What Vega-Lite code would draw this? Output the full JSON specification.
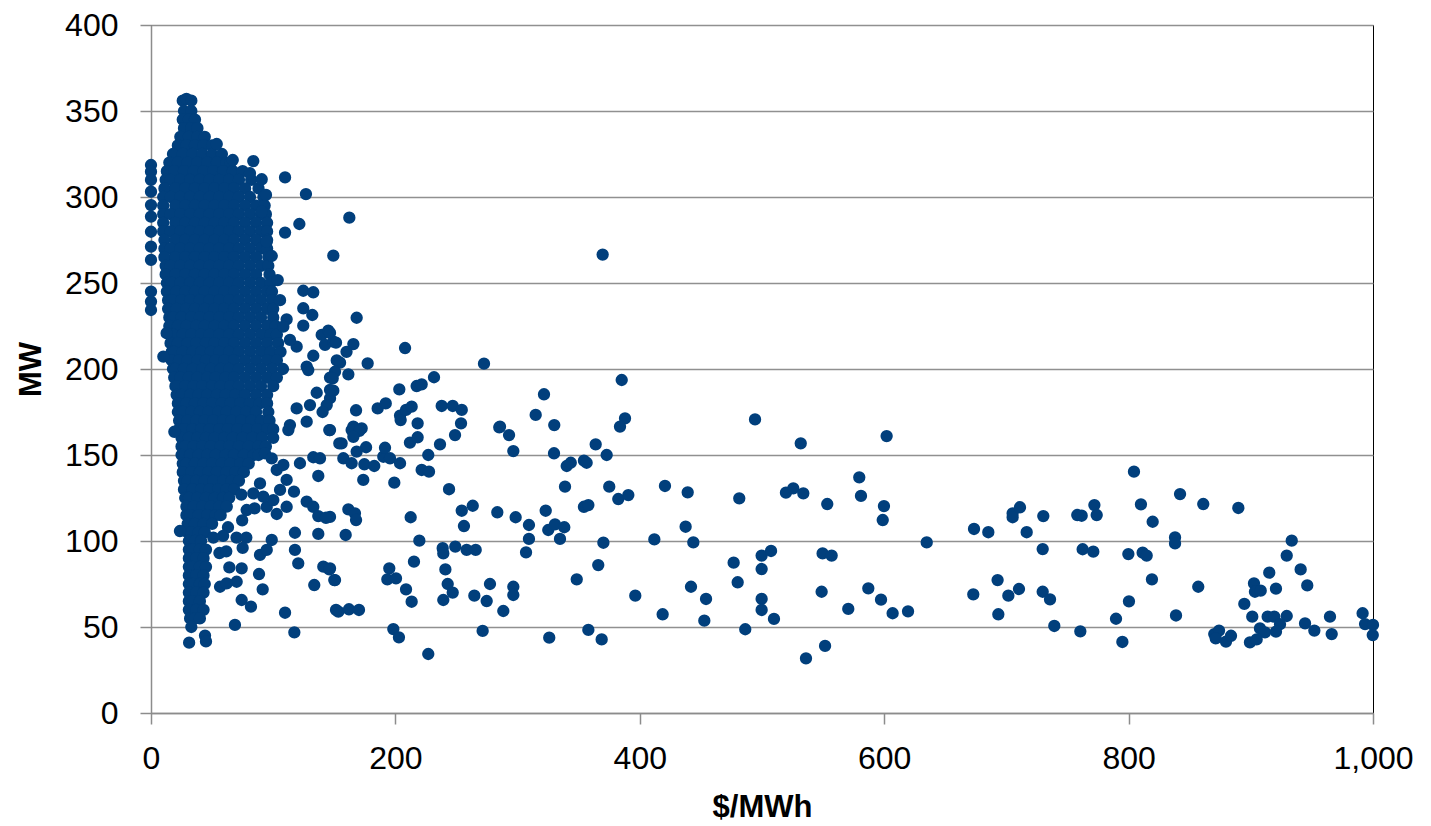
{
"$schema": "https://vega.github.io/schema/vega-lite/v6.json",
"width": 1222, "height": 688,
"autosize": {"type": "none"},
"padding": {"left": 151, "top": 25, "right": 58, "bottom": 113},
"background": "white",
"config": {
  "view": {"stroke": "#000000", "strokeWidth": 1},
  "axis": {"domainColor": "#8c8c8c", "domainWidth": 1.5, "tickColor": "#8c8c8c", "tickWidth": 1.5, "tickSize": 11,
           "gridColor": "#909090", "gridWidth": 1.5, "labelFont": "Liberation Sans", "labelFontSize": 32, "labelColor": "#000000",
           "titleFont": "Liberation Sans", "titleFontSize": 31, "titleFontWeight": "bold", "titleColor": "#000000"}
},
"data": {"values": [
{"price":26,"mw":356},{"price":29,"mw":357},{"price":33,"mw":356},
{"price":27,"mw":350},{"price":33,"mw":350},
{"price":26,"mw":345},{"price":31,"mw":345},{"price":36,"mw":345},
{"price":27,"mw":340},{"price":33,"mw":340},{"price":38,"mw":340},
{"price":24,"mw":335},{"price":31,"mw":335},{"price":38,"mw":335},{"price":44,"mw":335},
{"price":22,"mw":330},{"price":29,"mw":330},{"price":36,"mw":330},{"price":43,"mw":330},{"price":50,"mw":330},
{"price":18,"mw":325},{"price":26,"mw":325},{"price":34,"mw":325},{"price":42,"mw":325},{"price":50,"mw":325},{"price":58,"mw":325},
{"price":15,"mw":320},{"price":22,"mw":320},{"price":30,"mw":320},{"price":38,"mw":320},{"price":46,"mw":320},{"price":54,"mw":320},{"price":62,"mw":320},{"price":65,"mw":320},
{"price":13,"mw":315},{"price":19,"mw":315},{"price":27,"mw":315},{"price":35,"mw":315},{"price":43,"mw":315},{"price":51,"mw":315},{"price":59,"mw":315},{"price":67,"mw":315},{"price":75,"mw":315},
{"price":12,"mw":310},{"price":16,"mw":310},{"price":24,"mw":310},{"price":32,"mw":310},{"price":40,"mw":310},{"price":48,"mw":310},{"price":56,"mw":310},{"price":64,"mw":310},{"price":72,"mw":310},{"price":82,"mw":310},
{"price":11,"mw":305},{"price":20,"mw":305},{"price":28,"mw":305},{"price":36,"mw":305},{"price":44,"mw":305},{"price":52,"mw":305},{"price":60,"mw":305},{"price":68,"mw":305},{"price":77,"mw":305},{"price":88,"mw":305},
{"price":10,"mw":300},{"price":16,"mw":300},{"price":24,"mw":300},{"price":32,"mw":300},{"price":40,"mw":300},{"price":48,"mw":300},{"price":56,"mw":300},{"price":64,"mw":300},{"price":72,"mw":300},{"price":81,"mw":300},{"price":92,"mw":300},
{"price":10,"mw":295},{"price":20,"mw":295},{"price":28,"mw":295},{"price":36,"mw":295},{"price":44,"mw":295},{"price":52,"mw":295},{"price":60,"mw":295},{"price":68,"mw":295},{"price":77,"mw":295},{"price":86,"mw":295},{"price":93,"mw":295},
{"price":10,"mw":290},{"price":16,"mw":290},{"price":24,"mw":290},{"price":32,"mw":290},{"price":40,"mw":290},{"price":48,"mw":290},{"price":56,"mw":290},{"price":64,"mw":290},{"price":72,"mw":290},{"price":81,"mw":290},{"price":90,"mw":290},{"price":94,"mw":290},
{"price":10,"mw":285},{"price":20,"mw":285},{"price":28,"mw":285},{"price":36,"mw":285},{"price":44,"mw":285},{"price":52,"mw":285},{"price":60,"mw":285},{"price":68,"mw":285},{"price":77,"mw":285},{"price":86,"mw":285},{"price":95,"mw":285},
{"price":10,"mw":280},{"price":16,"mw":280},{"price":24,"mw":280},{"price":32,"mw":280},{"price":40,"mw":280},{"price":48,"mw":280},{"price":56,"mw":280},{"price":64,"mw":280},{"price":72,"mw":280},{"price":81,"mw":280},{"price":90,"mw":280},{"price":95,"mw":280},
{"price":11,"mw":275},{"price":20,"mw":275},{"price":28,"mw":275},{"price":36,"mw":275},{"price":44,"mw":275},{"price":52,"mw":275},{"price":60,"mw":275},{"price":68,"mw":275},{"price":77,"mw":275},{"price":86,"mw":275},{"price":95,"mw":275},
{"price":11,"mw":270},{"price":16,"mw":270},{"price":24,"mw":270},{"price":32,"mw":270},{"price":40,"mw":270},{"price":48,"mw":270},{"price":56,"mw":270},{"price":64,"mw":270},{"price":72,"mw":270},{"price":81,"mw":270},{"price":90,"mw":270},{"price":95,"mw":270},
{"price":11,"mw":265},{"price":20,"mw":265},{"price":28,"mw":265},{"price":36,"mw":265},{"price":44,"mw":265},{"price":52,"mw":265},{"price":60,"mw":265},{"price":68,"mw":265},{"price":77,"mw":265},{"price":86,"mw":265},{"price":96,"mw":265},
{"price":12,"mw":260},{"price":16,"mw":260},{"price":24,"mw":260},{"price":32,"mw":260},{"price":40,"mw":260},{"price":48,"mw":260},{"price":56,"mw":260},{"price":64,"mw":260},{"price":72,"mw":260},{"price":81,"mw":260},{"price":90,"mw":260},{"price":96,"mw":260},
{"price":12,"mw":255},{"price":20,"mw":255},{"price":28,"mw":255},{"price":36,"mw":255},{"price":44,"mw":255},{"price":52,"mw":255},{"price":60,"mw":255},{"price":68,"mw":255},{"price":77,"mw":255},{"price":86,"mw":255},{"price":97,"mw":255},
{"price":13,"mw":250},{"price":17,"mw":250},{"price":24,"mw":250},{"price":32,"mw":250},{"price":40,"mw":250},{"price":48,"mw":250},{"price":56,"mw":250},{"price":64,"mw":250},{"price":72,"mw":250},{"price":81,"mw":250},{"price":90,"mw":250},{"price":98,"mw":250},
{"price":13,"mw":245},{"price":21,"mw":245},{"price":28,"mw":245},{"price":36,"mw":245},{"price":44,"mw":245},{"price":52,"mw":245},{"price":60,"mw":245},{"price":68,"mw":245},{"price":77,"mw":245},{"price":86,"mw":245},{"price":95,"mw":245},{"price":99,"mw":245},
{"price":14,"mw":240},{"price":17,"mw":240},{"price":25,"mw":240},{"price":32,"mw":240},{"price":40,"mw":240},{"price":48,"mw":240},{"price":56,"mw":240},{"price":64,"mw":240},{"price":72,"mw":240},{"price":81,"mw":240},{"price":90,"mw":240},{"price":99,"mw":240},
{"price":14,"mw":235},{"price":21,"mw":235},{"price":29,"mw":235},{"price":36,"mw":235},{"price":44,"mw":235},{"price":52,"mw":235},{"price":60,"mw":235},{"price":68,"mw":235},{"price":77,"mw":235},{"price":86,"mw":235},{"price":95,"mw":235},{"price":100,"mw":235},
{"price":15,"mw":230},{"price":18,"mw":230},{"price":25,"mw":230},{"price":33,"mw":230},{"price":40,"mw":230},{"price":48,"mw":230},{"price":56,"mw":230},{"price":64,"mw":230},{"price":72,"mw":230},{"price":81,"mw":230},{"price":90,"mw":230},{"price":100,"mw":230},
{"price":15,"mw":225},{"price":22,"mw":225},{"price":29,"mw":225},{"price":37,"mw":225},{"price":44,"mw":225},{"price":52,"mw":225},{"price":60,"mw":225},{"price":68,"mw":225},{"price":77,"mw":225},{"price":86,"mw":225},{"price":95,"mw":225},{"price":102,"mw":225},
{"price":16,"mw":220},{"price":18,"mw":220},{"price":26,"mw":220},{"price":33,"mw":220},{"price":41,"mw":220},{"price":48,"mw":220},{"price":56,"mw":220},{"price":64,"mw":220},{"price":72,"mw":220},{"price":81,"mw":220},{"price":90,"mw":220},{"price":98,"mw":220},{"price":103,"mw":220},
{"price":16,"mw":215},{"price":22,"mw":215},{"price":30,"mw":215},{"price":37,"mw":215},{"price":45,"mw":215},{"price":52,"mw":215},{"price":60,"mw":215},{"price":68,"mw":215},{"price":77,"mw":215},{"price":86,"mw":215},{"price":95,"mw":215},{"price":104,"mw":215},
{"price":17,"mw":210},{"price":19,"mw":210},{"price":26,"mw":210},{"price":34,"mw":210},{"price":41,"mw":210},{"price":49,"mw":210},{"price":56,"mw":210},{"price":64,"mw":210},{"price":72,"mw":210},{"price":81,"mw":210},{"price":90,"mw":210},{"price":98,"mw":210},{"price":106,"mw":210},
{"price":17,"mw":205},{"price":23,"mw":205},{"price":30,"mw":205},{"price":38,"mw":205},{"price":45,"mw":205},{"price":53,"mw":205},{"price":60,"mw":205},{"price":68,"mw":205},{"price":77,"mw":205},{"price":86,"mw":205},{"price":95,"mw":205},{"price":103,"mw":205},
{"price":18,"mw":200},{"price":20,"mw":200},{"price":27,"mw":200},{"price":34,"mw":200},{"price":42,"mw":200},{"price":49,"mw":200},{"price":57,"mw":200},{"price":64,"mw":200},{"price":72,"mw":200},{"price":81,"mw":200},{"price":90,"mw":200},{"price":99,"mw":200},{"price":108,"mw":200},
{"price":19,"mw":195},{"price":24,"mw":195},{"price":31,"mw":195},{"price":38,"mw":195},{"price":46,"mw":195},{"price":53,"mw":195},{"price":61,"mw":195},{"price":68,"mw":195},{"price":77,"mw":195},{"price":86,"mw":195},{"price":95,"mw":195},{"price":103,"mw":195},
{"price":20,"mw":190},{"price":21,"mw":190},{"price":28,"mw":190},{"price":35,"mw":190},{"price":42,"mw":190},{"price":50,"mw":190},{"price":57,"mw":190},{"price":65,"mw":190},{"price":72,"mw":190},{"price":81,"mw":190},{"price":90,"mw":190},{"price":100,"mw":190},
{"price":21,"mw":185},{"price":25,"mw":185},{"price":32,"mw":185},{"price":39,"mw":185},{"price":46,"mw":185},{"price":54,"mw":185},{"price":61,"mw":185},{"price":69,"mw":185},{"price":77,"mw":185},{"price":86,"mw":185},{"price":95,"mw":185},
{"price":22,"mw":180},{"price":29,"mw":180},{"price":36,"mw":180},{"price":43,"mw":180},{"price":50,"mw":180},{"price":58,"mw":180},{"price":65,"mw":180},{"price":73,"mw":180},{"price":81,"mw":180},{"price":89,"mw":180},{"price":95,"mw":180},
{"price":22,"mw":175},{"price":26,"mw":175},{"price":33,"mw":175},{"price":40,"mw":175},{"price":47,"mw":175},{"price":55,"mw":175},{"price":62,"mw":175},{"price":70,"mw":175},{"price":78,"mw":175},{"price":86,"mw":175},{"price":96,"mw":175},
{"price":23,"mw":170},{"price":30,"mw":170},{"price":37,"mw":170},{"price":44,"mw":170},{"price":51,"mw":170},{"price":59,"mw":170},{"price":66,"mw":170},{"price":74,"mw":170},{"price":82,"mw":170},{"price":90,"mw":170},{"price":97,"mw":170},
{"price":23,"mw":165},{"price":27,"mw":165},{"price":34,"mw":165},{"price":41,"mw":165},{"price":48,"mw":165},{"price":56,"mw":165},{"price":63,"mw":165},{"price":71,"mw":165},{"price":79,"mw":165},{"price":87,"mw":165},{"price":95,"mw":165},{"price":100,"mw":165},
{"price":25,"mw":160},{"price":31,"mw":160},{"price":38,"mw":160},{"price":45,"mw":160},{"price":52,"mw":160},{"price":60,"mw":160},{"price":67,"mw":160},{"price":75,"mw":160},{"price":83,"mw":160},{"price":91,"mw":160},{"price":100,"mw":160},
{"price":25,"mw":155},{"price":28,"mw":155},{"price":35,"mw":155},{"price":42,"mw":155},{"price":49,"mw":155},{"price":57,"mw":155},{"price":64,"mw":155},{"price":72,"mw":155},{"price":80,"mw":155},{"price":88,"mw":155},{"price":94,"mw":155},
{"price":25,"mw":150},{"price":32,"mw":150},{"price":39,"mw":150},{"price":46,"mw":150},{"price":53,"mw":150},{"price":61,"mw":150},{"price":68,"mw":150},{"price":76,"mw":150},{"price":84,"mw":150},{"price":88,"mw":150},
{"price":26,"mw":145},{"price":29,"mw":145},{"price":36,"mw":145},{"price":43,"mw":145},{"price":50,"mw":145},{"price":58,"mw":145},{"price":65,"mw":145},{"price":73,"mw":145},{"price":80,"mw":145},
{"price":26,"mw":140},{"price":33,"mw":140},{"price":40,"mw":140},{"price":47,"mw":140},{"price":54,"mw":140},{"price":62,"mw":140},{"price":69,"mw":140},{"price":76,"mw":140},
{"price":27,"mw":135},{"price":30,"mw":135},{"price":37,"mw":135},{"price":44,"mw":135},{"price":51,"mw":135},{"price":59,"mw":135},{"price":66,"mw":135},{"price":72,"mw":135},
{"price":27,"mw":130},{"price":34,"mw":130},{"price":41,"mw":130},{"price":48,"mw":130},{"price":55,"mw":130},{"price":62,"mw":130},{"price":68,"mw":130},
{"price":28,"mw":125},{"price":31,"mw":125},{"price":38,"mw":125},{"price":45,"mw":125},{"price":52,"mw":125},{"price":59,"mw":125},{"price":64,"mw":125},
{"price":29,"mw":120},{"price":35,"mw":120},{"price":42,"mw":120},{"price":49,"mw":120},{"price":56,"mw":120},{"price":62,"mw":120},
{"price":29,"mw":115},{"price":32,"mw":115},{"price":39,"mw":115},{"price":46,"mw":115},{"price":53,"mw":115},{"price":57,"mw":115},
{"price":30,"mw":110},{"price":36,"mw":110},{"price":43,"mw":110},{"price":50,"mw":110},
{"price":30,"mw":105},{"price":33,"mw":105},{"price":39,"mw":105},{"price":44,"mw":105},
{"price":31,"mw":100},{"price":36,"mw":100},{"price":41,"mw":100},
{"price":31,"mw":95},{"price":34,"mw":95},{"price":40,"mw":95},{"price":45,"mw":95},
{"price":31,"mw":90},{"price":37,"mw":90},{"price":43,"mw":90},
{"price":31,"mw":85},{"price":34,"mw":85},{"price":40,"mw":85},{"price":45,"mw":85},
{"price":31,"mw":80},{"price":37,"mw":80},{"price":43,"mw":80},
{"price":31,"mw":75},{"price":34,"mw":75},{"price":40,"mw":75},{"price":44,"mw":75},
{"price":31,"mw":70},{"price":37,"mw":70},{"price":43,"mw":70},
{"price":31,"mw":65},{"price":34,"mw":65},{"price":40,"mw":65},
{"price":31,"mw":60},{"price":37,"mw":60},{"price":43,"mw":60},
{"price":32,"mw":55},{"price":36,"mw":55},{"price":40,"mw":55},
{"price":33,"mw":50},
{"price":0,"mw":318.6},{"price":0,"mw":314.7},{"price":0,"mw":309.9},{"price":0,"mw":303.1},{"price":0,"mw":295.3},{"price":0,"mw":288.6},{"price":0,"mw":279.8},{"price":0,"mw":271.1},{"price":0,"mw":263.4},{"price":0,"mw":245},{"price":0,"mw":239.2},{"price":0,"mw":234.3},
{"price":12.8,"mw":220.8},{"price":10.1,"mw":207.2},
{"price":109.7,"mw":311.4},{"price":126.8,"mw":301.7},{"price":94.1,"mw":301.2},{"price":90.6,"mw":310.3},{"price":81,"mw":313.8},{"price":83.7,"mw":320.9},{"price":66.9,"mw":321.5},{"price":53.8,"mw":330.8},{"price":90.6,"mw":291.5},{"price":121.4,"mw":284.3},{"price":109.7,"mw":279.3},{"price":94.7,"mw":274},{"price":98.8,"mw":265.7},{"price":103.7,"mw":251.7},{"price":124.6,"mw":245.5},{"price":132.8,"mw":244.6},{"price":124.6,"mw":235.3},{"price":132,"mw":231.4},{"price":124.6,"mw":225.2},{"price":111,"mw":228.9},{"price":108.3,"mw":224.6},{"price":139.7,"mw":219.8},{"price":145.1,"mw":222.3},{"price":142.4,"mw":214},{"price":149.2,"mw":215.9},{"price":132.8,"mw":207.7},{"price":127.4,"mw":201.4},{"price":152,"mw":205},{"price":119.2,"mw":213},{"price":113.7,"mw":216.9},{"price":105.6,"mw":240},
{"price":162.3,"mw":288},{"price":149.2,"mw":265.9},{"price":168.3,"mw":229.8},{"price":146.5,"mw":221},{"price":151.4,"mw":215.3},{"price":165.6,"mw":214.5},{"price":160,"mw":210},{"price":207.9,"mw":212.2},{"price":154.7,"mw":203.7},{"price":177.3,"mw":203.3},{"price":272.5,"mw":203.1},{"price":150.6,"mw":198.4},{"price":161.5,"mw":196.9},{"price":146.5,"mw":195},{"price":149.2,"mw":187.4},{"price":231.6,"mw":195.2},{"price":203.2,"mw":188.2},{"price":217.4,"mw":190.1},{"price":221.5,"mw":191.1},{"price":385.2,"mw":193.6},{"price":321.6,"mw":185.3},{"price":146.5,"mw":183},{"price":167.8,"mw":176},{"price":185.5,"mw":177.1},{"price":192.1,"mw":180},{"price":203.8,"mw":172.9},{"price":208.7,"mw":176.2},{"price":213.3,"mw":178.1},{"price":237.9,"mw":178.5},{"price":246.9,"mw":178.5},{"price":254.3,"mw":176.2},{"price":218.2,"mw":168.4},{"price":253.7,"mw":168.4},{"price":314.8,"mw":173.3},{"price":330,"mw":167.4},{"price":285.6,"mw":166.5},{"price":387.9,"mw":171.3},{"price":383.8,"mw":166.5},{"price":165.6,"mw":166.5},{"price":172.4,"mw":165.5},
{"price":369.6,"mw":266.5},
{"price":146.5,"mw":164.5},{"price":164.2,"mw":164.5},{"price":170.5,"mw":164},{"price":165.6,"mw":160.6},{"price":156,"mw":156.8},{"price":176,"mw":154.5},{"price":168.3,"mw":152},{"price":157.4,"mw":148.1},{"price":164.2,"mw":145.2},{"price":174.6,"mw":144.6},{"price":182.7,"mw":143.6},{"price":190.1,"mw":149},{"price":195.6,"mw":148.1},{"price":191.5,"mw":154.2},{"price":203.8,"mw":145.2},{"price":173.7,"mw":135.5},{"price":199.1,"mw":133.9},{"price":204.3,"mw":170.3},{"price":211.9,"mw":157.2},{"price":218.2,"mw":160.3},{"price":236.5,"mw":156.2},{"price":248.8,"mw":161.6},{"price":226.9,"mw":150},{"price":221.5,"mw":141.3},{"price":227.5,"mw":140.3},{"price":243.9,"mw":130.1},{"price":285,"mw":166.1},{"price":293,"mw":161.6},{"price":296.5,"mw":152.3},{"price":329.8,"mw":151},{"price":340.2,"mw":143.6},{"price":343.5,"mw":145.5},{"price":354.3,"mw":146.7},{"price":356.5,"mw":145.5},{"price":338.8,"mw":131.6},{"price":363.9,"mw":156.2},{"price":372.9,"mw":150},{"price":375,"mw":131.6},{"price":382.4,"mw":124.4},{"price":390.6,"mw":126.7},
{"price":161.5,"mw":118.4},{"price":166.9,"mw":116.1},{"price":167.8,"mw":112.2},{"price":146.5,"mw":114},{"price":159.3,"mw":103.5},{"price":212.5,"mw":113.8},{"price":219.6,"mw":100.2},{"price":254.3,"mw":117.6},{"price":263.3,"mw":120.5},{"price":256.1,"mw":108.7},{"price":283.4,"mw":116.7},{"price":298.4,"mw":113.8},{"price":309.3,"mw":109.3},{"price":309.3,"mw":101.2},{"price":323,"mw":117.6},{"price":325.1,"mw":106.4},{"price":330.6,"mw":109.7},{"price":338.2,"mw":108},{"price":334.7,"mw":101.2},{"price":306.9,"mw":93.4},{"price":354.3,"mw":119.9},{"price":357.9,"mw":120.9},{"price":370.2,"mw":99},{"price":366,"mw":86},{"price":348.4,"mw":77.7},
{"price":146.5,"mw":84.1},{"price":150.6,"mw":77.3},{"price":153.3,"mw":58.9},{"price":162,"mw":60.3},{"price":170.2,"mw":59.9},{"price":195,"mw":84.1},{"price":193.4,"mw":77.7},{"price":200.5,"mw":78.3},{"price":208.7,"mw":71.9},{"price":213.3,"mw":64.7},{"price":215.2,"mw":88},{"price":238.7,"mw":95.8},{"price":239.2,"mw":92.8},{"price":249,"mw":96.7},{"price":258.3,"mw":94.8},{"price":265.7,"mw":94.8},{"price":240.9,"mw":83.5},{"price":242.8,"mw":75},{"price":246.9,"mw":70},{"price":239.2,"mw":65.7},{"price":264.6,"mw":68.2},{"price":274.7,"mw":65.1},{"price":277.4,"mw":75},{"price":288.3,"mw":59.3},{"price":296.5,"mw":73.4},{"price":296.5,"mw":68.6},{"price":198.3,"mw":48.8},{"price":202.9,"mw":44},{"price":226.9,"mw":34.3},{"price":271.4,"mw":47.7},{"price":325.9,"mw":43.8},{"price":357.9,"mw":48.3},{"price":368.8,"mw":42.8},
{"price":128.7,"mw":199.4},{"price":148.7,"mw":194.6},{"price":146.5,"mw":187.8},{"price":135.6,"mw":186.2},{"price":143.8,"mw":179},{"price":130.1,"mw":179},{"price":140.4,"mw":175},{"price":127.4,"mw":169.4},{"price":145.9,"mw":164.5},{"price":113.7,"mw":167.4},{"price":119.2,"mw":177.1},{"price":112.4,"mw":164.5},{"price":121.9,"mw":145.2},{"price":132.8,"mw":148.7},{"price":138.3,"mw":148.1},{"price":136.9,"mw":137.8},{"price":154.1,"mw":156.8},{"price":117,"mw":128.7},{"price":127.4,"mw":122.9},{"price":132.8,"mw":119.9},{"price":136.9,"mw":114.5},{"price":143.2,"mw":113.5},{"price":117.8,"mw":104.8},{"price":136.9,"mw":104.1},{"price":117.8,"mw":94.8},{"price":120.5,"mw":87},{"price":141,"mw":85.1},{"price":145.9,"mw":83.5},{"price":150,"mw":77.3},{"price":133.6,"mw":74.4},{"price":109.7,"mw":58.3},{"price":117.3,"mw":46.9},{"price":151.4,"mw":59.9},
{"price":94.7,"mw":119.9},{"price":102.9,"mw":115.7},{"price":111,"mw":119.9},{"price":98.8,"mw":100.6},{"price":89.2,"mw":91.9},{"price":94.7,"mw":94.8},{"price":74.2,"mw":84.1},{"price":64.1,"mw":84.7},{"price":70.1,"mw":76.3},{"price":56.5,"mw":73.4},{"price":61.9,"mw":75.4},{"price":74.2,"mw":65.7},{"price":81.8,"mw":61.8},{"price":91.4,"mw":71.9},{"price":88.4,"mw":80.8},{"price":68.7,"mw":51.2},{"price":23.7,"mw":105.8},{"price":19.1,"mw":163.5},{"price":31.2,"mw":40.9},{"price":44.2,"mw":45},{"price":45,"mw":41.6},
{"price":93.3,"mw":151},{"price":98.8,"mw":148},{"price":102.9,"mw":141.3},{"price":108.3,"mw":144.2},{"price":111,"mw":135.5},{"price":105.6,"mw":129.7},{"price":100.1,"mw":123.8},{"price":89.2,"mw":133.5},{"price":83.7,"mw":127.7},{"price":91.9,"mw":125.8},{"price":78.3,"mw":118},{"price":73.9,"mw":127},{"price":84.8,"mw":119},{"price":74.6,"mw":112},{"price":70,"mw":102},{"price":63,"mw":108},{"price":59,"mw":103},{"price":51,"mw":102},{"price":78,"mw":102},{"price":75,"mw":96},{"price":56,"mw":93},{"price":61.6,"mw":94},
{"price":494.3,"mw":170.7},{"price":531.7,"mw":156.8},{"price":602,"mw":161},{"price":420.6,"mw":132},{"price":439.2,"mw":128.3},{"price":481.4,"mw":124.8},{"price":519.6,"mw":128.1},{"price":525.6,"mw":130.6},{"price":533.8,"mw":127.7},{"price":553.4,"mw":121.5},{"price":579.6,"mw":137},{"price":581,"mw":126.2},{"price":599.8,"mw":120.3},{"price":598.8,"mw":112.2},{"price":673.5,"mw":107},{"price":685.2,"mw":105.1},{"price":634.8,"mw":99.2},{"price":411.9,"mw":100.9},{"price":437.5,"mw":108.3},{"price":443.8,"mw":99.2},{"price":499.7,"mw":91.5},{"price":507.4,"mw":94.2},{"price":499.7,"mw":83.7},{"price":476.8,"mw":87.4},{"price":549.6,"mw":92.8},{"price":557,"mw":91.5},{"price":396.3,"mw":68.2},{"price":441.9,"mw":73.4},{"price":454.2,"mw":66.3},{"price":480.1,"mw":76},{"price":499.7,"mw":66.3},{"price":499.7,"mw":59.9},{"price":418.7,"mw":57.4},{"price":452.8,"mw":53.7},{"price":509.8,"mw":54.7},{"price":486.3,"mw":48.7},{"price":548.8,"mw":70.5},{"price":587,"mw":72.5},{"price":597.4,"mw":65.9},{"price":570.6,"mw":60.5},{"price":606.9,"mw":58},{"price":619.5,"mw":59.1},{"price":672.9,"mw":69},{"price":692.8,"mw":77.3},{"price":693.4,"mw":57.4},{"price":536,"mw":31.8},{"price":551.6,"mw":39},
{"price":705.1,"mw":116.1},{"price":705.1,"mw":113.8},{"price":711.1,"mw":119.6},{"price":716.6,"mw":105.1},{"price":730.2,"mw":114.5},{"price":729.7,"mw":95.3},{"price":758,"mw":115.1},{"price":761.6,"mw":114.7},{"price":772,"mw":120.9},{"price":773.9,"mw":115.1},{"price":762.4,"mw":95.2},{"price":771.1,"mw":93.8},{"price":804.4,"mw":140.3},{"price":810.1,"mw":121.3},{"price":819.7,"mw":111.2},{"price":799.8,"mw":92.4},{"price":811.5,"mw":93.2},{"price":814.8,"mw":91.5},{"price":838,"mw":102.1},{"price":838,"mw":98.6},{"price":842.1,"mw":127.3},{"price":861.1,"mw":121.5},{"price":889.8,"mw":119.2},{"price":933.5,"mw":100.2},{"price":929.4,"mw":91.5},{"price":940.8,"mw":83.5},{"price":946.2,"mw":74.2},{"price":915.1,"mw":81.6},{"price":920.6,"mw":72.3},{"price":902.6,"mw":75.4},{"price":903.4,"mw":70.5},{"price":908.1,"mw":71.1},{"price":894.7,"mw":63.4},{"price":901.2,"mw":56},{"price":913.8,"mw":56},{"price":919.2,"mw":56},{"price":929.4,"mw":56.4},{"price":923.9,"mw":51.6},{"price":907.5,"mw":49.2},{"price":911.6,"mw":46.9},{"price":920.6,"mw":47.3},{"price":944.4,"mw":52.1},{"price":952,"mw":47.9},{"price":964.8,"mw":56},{"price":966.2,"mw":45.9},{"price":991.5,"mw":58},{"price":993.5,"mw":51.7},{"price":1000,"mw":51.2},{"price":999.8,"mw":45.3},{"price":899.3,"mw":41.1},{"price":904.8,"mw":42.8},{"price":870.1,"mw":45.9},{"price":874,"mw":47.9},{"price":871.3,"mw":43.4},{"price":879.7,"mw":41.5},{"price":883.8,"mw":44.9},{"price":819.1,"mw":77.7},{"price":857,"mw":73.4},{"price":838.8,"mw":56.7},{"price":701.6,"mw":68.2},{"price":710.3,"mw":72.1},{"price":729.7,"mw":70.5},{"price":735.7,"mw":66.1},{"price":739.2,"mw":50.6},{"price":760.5,"mw":47.5},{"price":789.7,"mw":54.8},{"price":800.3,"mw":64.9},{"price":794.9,"mw":41.3}
]},
"mark": {"type": "circle", "size": 152, "opacity": 1, "color": "#013F7C"},
"encoding": {
  "x": {"field": "price", "type": "quantitative", "scale": {"domain": [0, 1000], "nice": false, "zero": true},
        "axis": {"title": "$/MWh", "values": [0, 200, 400, 600, 800, 1000], "format": ",d", "grid": false,
                 "labelPadding": 19, "titleX": 611, "titleY": 94, "titleAlign": "center", "titleBaseline": "middle", "labelFlush": false}},
  "y": {"field": "mw", "type": "quantitative", "scale": {"domain": [0, 400], "nice": false},
        "axis": {"title": "MW", "values": [0, 50, 100, 150, 200, 250, 300, 350, 400], "grid": true, "labelPadding": 22,
                 "titleX": -120, "titleY": 344, "titleAngle": 270, "titleAlign": "center", "titleBaseline": "middle", "labelFlush": false}}
}
}
